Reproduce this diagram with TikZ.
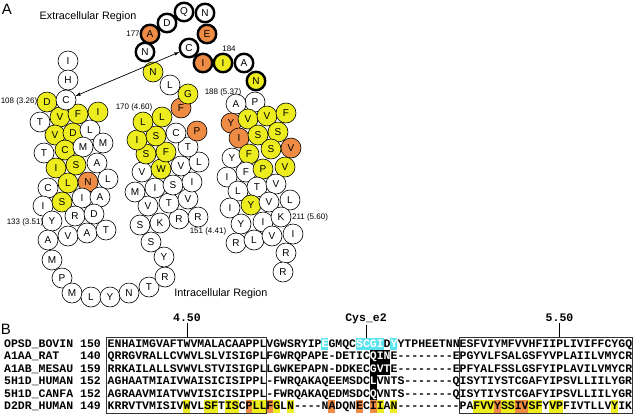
\documentclass[tikz,border=0pt]{standalone}
\usepackage{fontspec}
\setmainfont{Liberation Sans}
\setmonofont{Liberation Mono}
\usetikzlibrary{positioning}

\definecolor{resyellow}{RGB}{236,236,30}
\definecolor{resorange}{RGB}{238,140,70}
\definecolor{alncyan}{RGB}{90,228,240}

% highlight of alignment cells: row, first column, number of columns, colour
\newcommand{\hlbox}[4]{\fill[#4] ({107.5+6.9*#2},{337.6+12.55*#1}) rectangle ++({6.9*#3},12.55);}

\tikzset{
  res/.style={circle, draw, line width=0.6pt, minimum size=20pt, inner sep=0pt,
    font=\fontsize{10}{10}\selectfont},
  ecl/.style={line width=2.4pt, minimum size=18.5pt},
  numlbl/.style={inner sep=0pt, font=\fontsize{8}{8}\selectfont},
  region/.style={inner sep=0pt, font=\fontsize{10.8}{11}\selectfont},
  panel/.style={inner sep=0pt, font=\fontsize{15}{15}\selectfont},
  seq/.style={anchor=base west, inner sep=0pt, font=\ttfamily\bfseries\fontsize{11.5}{12.5}\selectfont},
}

\begin{document}
\begin{tikzpicture}[x=1pt, y=-1pt, >=latex]
    \useasboundingbox (0,0) rectangle (636,416);

    % Teil A
    \node[panel] (pA) at (7,9) {A};
    \node[region] (extra) at (88,17) {Extracellular Region};
    \node[region] (intra) at (221,294) {Intracellular Region};

    % TM3 und zweite intrazellulaere Schleife
    \foreach \x/\y/\r/\c [count=\i] in {68/61/I/white, 68/80/H/white, 47/102/D/resyellow,
        40/122/T/white, 60/117/V/resyellow, 78/114/F/resyellow, 98/112/I/resyellow,
        55/135/V/resyellow, 73/133/D/resyellow, 90/130/L/white,
        44/153/T/white, 65/150/C/resyellow, 83/147/M/white, 103/143/M/white,
        56/168/I/resyellow, 76/165/S/resyellow, 97/163/A/white,
        48/188/C/white, 68/183/L/resyellow, 88/182/N/resorange, 108/179/L/white,
        43/206/I/white, 62/202/S/resyellow, 82/198/I/white, 100/197/A/white,
        52/221/Y/white, 75/216/R/white, 94/214/D/white,
        48/240/A/white, 68/236/V/white, 87/233/A/white, 106/230/T/white,
        52/260/M/white, 62/278/P/white, 72/293/M/white, 91/297/L/white, 110/297/Y/white,
        129/293/N/white, 149/287/T/white, 165/277/R/white, 164/257/Y/white, 151/242/S/white}
        \node[res, fill=\c] (tm3-\i) at (\x,\y) {\r};
    \node[res, fill=white] (cys107) at (66,100) {C};

    % TM4
    \foreach \x/\y/\r/\c [count=\i] in {140/225/S/white, 160/223/K/white, 179/219/R/white, 198/217/R/white,
        148/206/V/white, 169/203/T/white, 188/199/V/white,
        135/192/M/white, 155/188/I/white, 173/185/S/white, 192/182/I/white,
        142/172/V/white, 161/169/W/resyellow, 181/166/V/white, 199/162/L/white,
        146/154/S/resyellow, 166/152/F/resyellow, 188/147/T/white,
        137/140/I/resyellow, 156/136/S/resyellow, 176/133/C/white, 197/131/P/resorange,
        143/122/L/resyellow, 162/117/L/resyellow, 181/108/F/resorange,
        188/94/G/resyellow, 170/85/L/white, 153/72/N/resyellow}
        \node[res, fill=\c] (tm4-\i) at (\x,\y) {\r};

    % zweite extrazellulaere Schleife
    \foreach \x/\y/\r/\c [count=\i] in {145/52/N/white, 150/34/A/resorange, 167/23/D/white,
        184/12/Q/white, 205/13/N/white, 207/34/E/resorange, 203/63/I/resorange,
        223/63/I/resyellow, 244/63/A/white, 256/81/N/resyellow}
        \node[res, ecl, fill=\c] (el2-\i) at (\x,\y) {\r};
    \node[res, ecl, fill=white] (cys182) at (189,48) {C};

    % TM5
    \foreach \x/\y/\r/\c [count=\i] in {255/102/P/white, 236/104/A/white,
        231/123/Y/resorange, 248/119/V/resyellow, 267/116/V/resyellow, 286/113/F/resyellow,
        239/138/I/resorange, 258/135/S/resyellow, 278/132/S/resyellow,
        232/158/Y/white, 249/154/F/resyellow, 271/149/S/resyellow, 291/148/V/resorange,
        227/177/I/white, 246/172/F/white, 263/169/P/resyellow, 285/167/V/resyellow,
        238/191/L/white, 257/187/T/white, 276/184/V/white,
        230/208/I/white, 251/205/Y/resyellow, 269/202/V/white, 290/200/L/white,
        241/224/Y/white, 263/222/I/white, 281/217/K/white,
        236/243/R/white, 254/240/L/white, 272/236/V/white, 293/234/I/white,
        286/253/R/white, 283/272/R/white}
        \node[res, fill=\c] (tm5-\i) at (\x,\y) {\r};

    % Disulfidbruecke
    \draw[<->, line width=0.7pt] (cys107) -- (cys182);

    % Nummern
    \node[numlbl] (n177) at (133,34) {177};
    \node[numlbl] (n184) at (229,49) {184};
    \node[numlbl] (n108) at (19,101) {108 (3.26)};
    \node[numlbl] (n170) at (134,107) {170 (4.60)};
    \node[numlbl] (n188) at (223,92) {188 (5.37)};
    \node[numlbl] (n133) at (25,222) {133 (3.51)};
    \node[numlbl] (n151) at (208,231) {151 (4.41)};
    \node[numlbl] (n211) at (310,217) {211 (5.60)};

    % Teil B
    \node[panel] (pB) at (6,329) {B};

    % Markierungen
    \hlbox{0}{31}{1}{alncyan} \hlbox{0}{36}{4}{alncyan} \hlbox{0}{41}{1}{alncyan}
    \hlbox{1}{38}{3}{black} \hlbox{2}{38}{3}{black}
    \hlbox{3}{38}{1}{black} \hlbox{4}{38}{1}{black}
    \foreach \k/\n in {11/1, 14/2, 17/2, 21/2, 24/1, 26/1, 39/1, 41/1, 53/3, 57/2, 61/2, 64/2, 73/1}
        {\hlbox{5}{\k}{\n}{resyellow}}
    \foreach \k/\n in {20/1, 23/1, 32/1, 36/1, 38/1, 56/1, 59/2}
        {\hlbox{5}{\k}{\n}{resorange}}

    % Alignment
    \node[seq] (nm1) at (4,347) {OPSD\_BOVIN};
    \node[seq] (nm2) at (4,359.55) {A1AA\_RAT};
    \node[seq] (nm3) at (4,372.1) {A1AB\_MESAU};
    \node[seq] (nm4) at (4,384.65) {5H1D\_HUMAN};
    \node[seq] (nm5) at (4,397.2) {5H1D\_CANFA};
    \node[seq] (nm6) at (4,409.75) {D2DR\_HUMAN};
    \node[seq] (no1) at (79.9,347) {150};
    \node[seq] (no2) at (79.9,359.55) {140};
    \node[seq] (no3) at (79.9,372.1) {159};
    \node[seq] (no4) at (79.9,384.65) {152};
    \node[seq] (no5) at (79.9,397.2) {152};
    \node[seq] (no6) at (79.9,409.75) {149};
    \node[seq] (sq1) at (107.5,347) {ENHAIMGVAFTWVMALACAAPPLVGWSRYIP\textcolor{white}{E}GMQC\textcolor{white}{SCGI}D\textcolor{white}{Y}YTPHEETNNESFVIYMFVVHFIIPLIVIFFCYGQ};
    \node[seq] (sq2) at (107.5,359.55) {QRRGVRALLCVWVLSLVISIGPLFGWRQPAPE-DETIC\textcolor{white}{QIN}E--------EPGYVLFSALGSFYVPLAIILVMYCR};
    \node[seq] (sq3) at (107.5,372.1) {RRKAILALLSVWVLSTVISIGPLLGWKEPAPN-DDKEC\textcolor{white}{GVT}E--------EPFYALFSSLGSFYIPLAVILVMYCR};
    \node[seq] (sq4) at (107.5,384.65) {AGHAATMIAIVWAISICISIPPL-FWRQAKAQEEMSDC\textcolor{white}{L}VNTS-------QISYTIYSTCGAFYIPSVLLIILYGR};
    \node[seq] (sq5) at (107.5,397.2) {AGRAAVMIATVWVISICISIPPL-FWRQAKAQEDMSDC\textcolor{white}{Q}VNTS-------QISYTIYSTCGAFYIPSVLLIILYGR};
    \node[seq] (sq6) at (107.5,409.75) {KRRVTVMISIVWVLSFTISCPLLFGLN----NADQNECIIAN---------PAFVVYSSIVSFYVPFIVTLLVYIK};

    % Kaesten um TM4 und TM5
    \draw[line width=0.8pt, black!80] (106,337.4) rectangle (266.6,413.2);
    \draw[line width=0.8pt, black!80] (459.2,337.4) rectangle (632.6,413.2);

    % Positionen
    \node[seq, anchor=base] (t450) at (186.9,321) {4.50};
    \node[seq, anchor=base] (tcys) at (366,321) {Cys\_e2};
    \node[seq, anchor=base] (t550) at (559.5,321) {5.50};
    \coordinate (b450) at (186.9,337.4);
    \coordinate (bcys) at (366,337.6);
    \coordinate (b550) at (559.5,337.4);
    \draw[line width=0.8pt, shorten <=2pt] (t450.south) -- (b450);
    \draw[line width=0.8pt, shorten <=1pt] (tcys.south) -- (bcys);
    \draw[line width=0.8pt, shorten <=2pt] (t550.south) -- (b550);
\end{tikzpicture}
\end{document}
